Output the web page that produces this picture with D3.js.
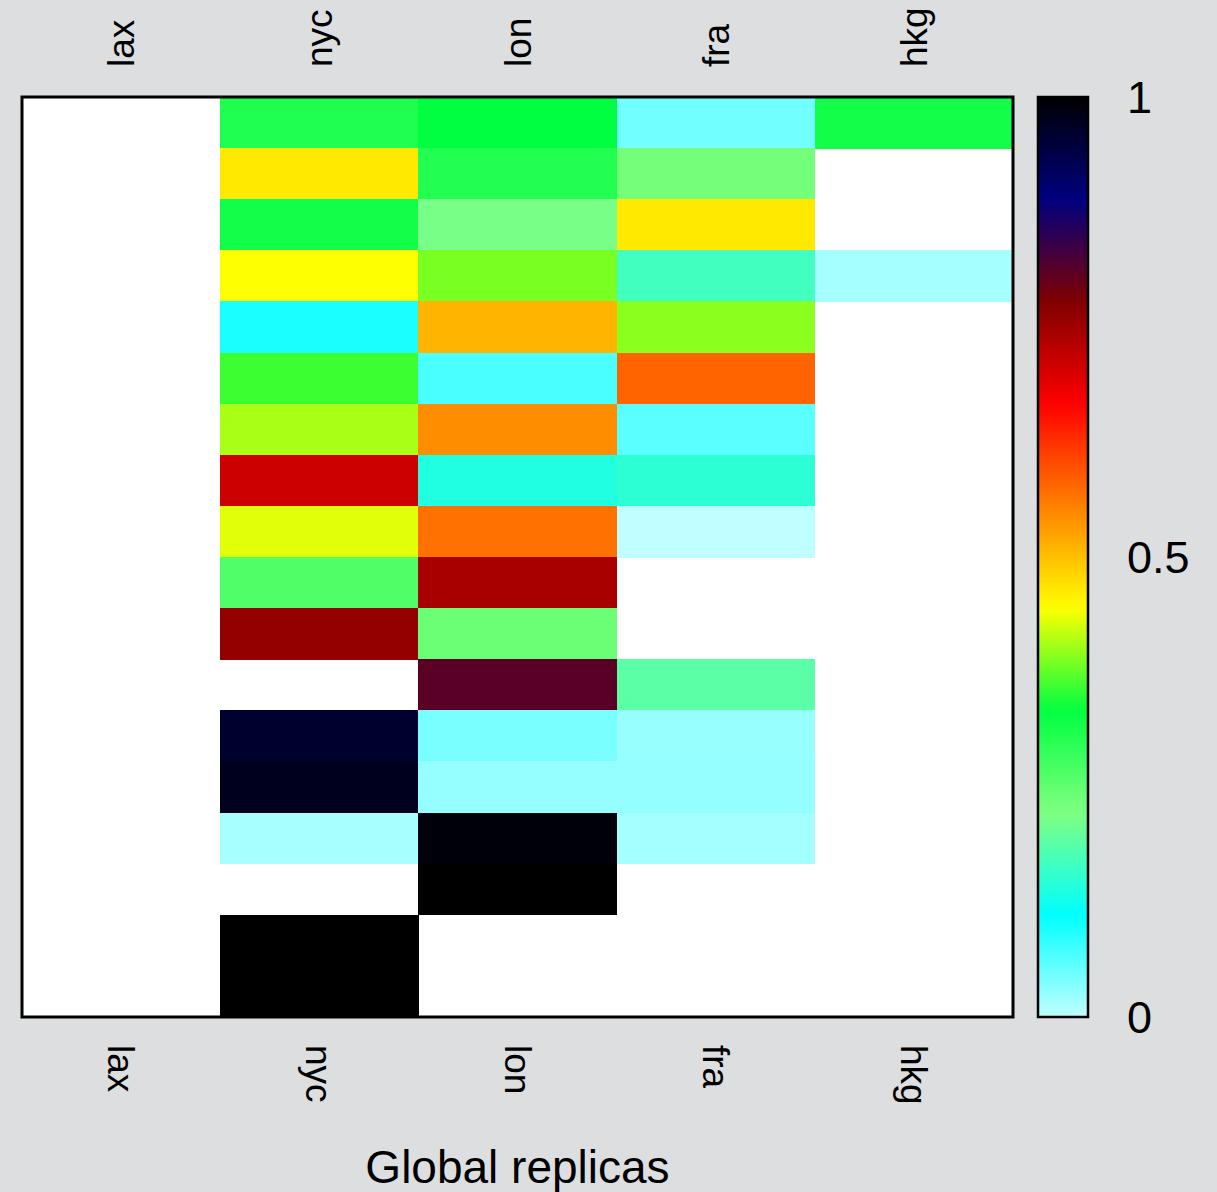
<!DOCTYPE html>
<html>
<head>
<meta charset="utf-8">
<script src="https://cdn.jsdelivr.net/npm/d3@7"></script>
<style>
  html, body { margin: 0; padding: 0; background: #dddee0; }
  svg { display: block; font-family: "Liberation Sans", Arial, Helvetica, sans-serif; }
</style>
</head>
<body>
<svg id="chart" width="1217" height="1192"></svg>
<script>
// Replica sites along the x axis
const columns = ["lax", "nyc", "lon", "fra", "hkg"];
// Row slots, top to bottom
const rows = [1, 2, 3, 4, 5, 6, 7, 8, 9, 10, 11, 12, 13, 14, 15, 16, 17, 18];

// Normalised values per site, one entry per row (null = no data)
const laxValues = [null, null, null, null, null, null, null, null, null, null, null, null, null, null, null, null, null, null];
const nycValues = [0.306, 0.464, 0.319, 0.444, 0.096, 0.359, 0.407, 0.711, 0.431, 0.264, 0.760, null, 0.960, 0.974, 0.014, null, 1.000, 1.000];
const lonValues = [0.333, 0.303, 0.215, 0.386, 0.510, 0.068, 0.544, 0.139, 0.569, 0.743, 0.241, 0.811, 0.041, 0.025, 0.991, 1.000, null, null];
const fraValues = [0.046, 0.233, 0.464, 0.167, 0.394, 0.580, 0.059, 0.149, 0.000, null, null, 0.189, 0.023, 0.025, 0.016, null, null, null];
const hkgValues = [0.318, null, null, 0.015, null, null, null, null, null, null, null, null, null, null, null, null, null, null];

// Colour bar tick labels
const cbTicks = [0, 0.5, 1];
const cbTickLabels = ["0", "0.5", "1"];

// Palette stops (evenly spaced from 0 to 1)
const paletteColors = ["#c0ffff", "#00ffff", "#80ff80", "#00ff40", "#ffff00",
                       "#ff8000", "#ff0000", "#800000", "#000080", "#000000"];

const xLabel = "Global replicas";

const valuesBySite = { lax: laxValues, nyc: nycValues, lon: lonValues, fra: fraValues, hkg: hkgValues };

const svg = d3.select("#chart");

const plot = { x0: 22, x1: 1013, y0: 97, y1: 1017 };
const cbar = { x0: 1038, x1: 1088 };

const x = d3.scaleBand().domain(columns).range([plot.x0, plot.x1]).padding(0);
const y = d3.scaleBand().domain(rows).range([plot.y0, plot.y1]).padding(0);

const color = d3.scaleLinear()
  .domain(paletteColors.map((_, i) => i / (paletteColors.length - 1)))
  .range(paletteColors)
  .interpolate(d3.interpolateRgb)
  .clamp(true);

// Plot background
svg.append("rect")
  .attr("x", plot.x0).attr("y", plot.y0)
  .attr("width", plot.x1 - plot.x0).attr("height", plot.y1 - plot.y0)
  .attr("fill", "#ffffff");

// Heatmap cells
const cells = [];
columns.forEach(c => {
  valuesBySite[c].forEach((v, i) => {
    if (v !== null) cells.push({ col: c, row: rows[i], value: v });
  });
});

svg.append("g")
  .attr("shape-rendering", "crispEdges")
  .selectAll("rect")
  .data(cells)
  .join("rect")
  .attr("x", d => x(d.col))
  .attr("y", d => y(d.row))
  .attr("width", x.bandwidth() + 0.5)
  .attr("height", y.bandwidth() + 0.5)
  .attr("fill", d => color(d.value));

// Plot frame
svg.append("rect")
  .attr("x", plot.x0).attr("y", plot.y0)
  .attr("width", plot.x1 - plot.x0).attr("height", plot.y1 - plot.y0)
  .attr("fill", "none").attr("stroke", "#000").attr("stroke-width", 3);

// Column labels on top (reading upward)
svg.append("g")
  .selectAll("text")
  .data(columns)
  .join("text")
  .attr("transform", d => `translate(${x(d) + x.bandwidth() / 2 + 13},67) rotate(-90)`)
  .attr("text-anchor", "start")
  .attr("font-size", 37)
  .attr("fill", "#000")
  .text(d => d);

// Column labels at the bottom (reading downward)
svg.append("g")
  .selectAll("text")
  .data(columns)
  .join("text")
  .attr("transform", d => `translate(${x(d) + x.bandwidth() / 2 - 13},1045) rotate(90)`)
  .attr("text-anchor", "start")
  .attr("font-size", 37)
  .attr("fill", "#000")
  .text(d => d);

// Axis title
svg.append("text")
  .attr("x", (plot.x0 + plot.x1) / 2 + 0)
  .attr("y", 1183)
  .attr("text-anchor", "middle")
  .attr("font-size", 46)
  .attr("fill", "#000")
  .text(xLabel);

// Colour bar
const cbScale = d3.scaleLinear().domain([0, 1]).range([plot.y1, plot.y0]);
const defs = svg.append("defs");
const grad = defs.append("linearGradient")
  .attr("id", "cbGrad")
  .attr("x1", 0).attr("y1", 1).attr("x2", 0).attr("y2", 0);
const gradSteps = d3.range(0, 101).map(i => i / 100);
grad.selectAll("stop")
  .data(gradSteps)
  .join("stop")
  .attr("offset", d => d)
  .attr("stop-color", d => color(d));

svg.append("rect")
  .attr("x", cbar.x0).attr("y", cbScale(1))
  .attr("width", cbar.x1 - cbar.x0).attr("height", cbScale(0) - cbScale(1))
  .attr("fill", "url(#cbGrad)")
  .attr("stroke", "#000").attr("stroke-width", 2.5);

svg.append("g")
  .selectAll("text")
  .data(cbTicks)
  .join("text")
  .attr("x", 1127)
  .attr("y", d => cbScale(d) + 16)
  .attr("font-size", 45)
  .attr("fill", "#000")
  .text((d, i) => cbTickLabels[i]);
</script>
</body>
</html>
